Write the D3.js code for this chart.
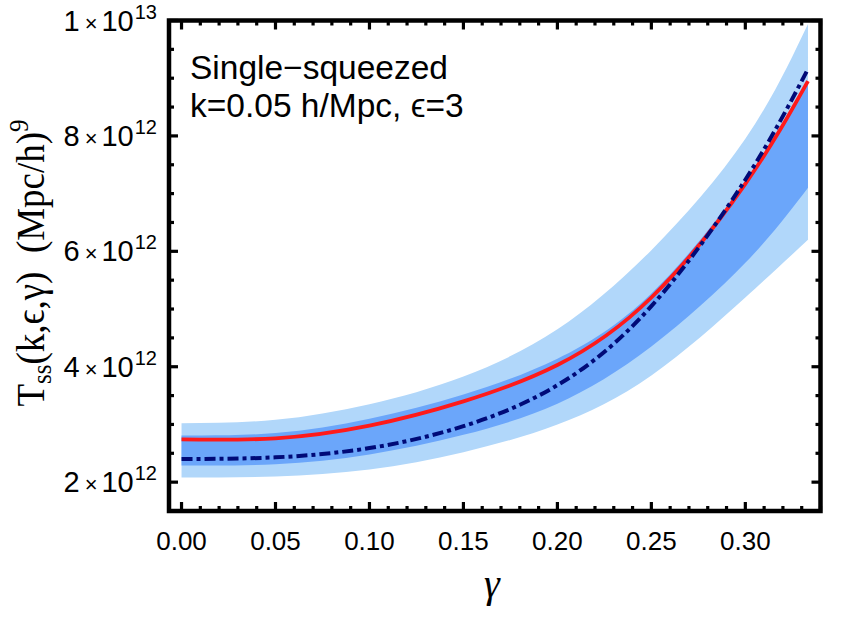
<!DOCTYPE html>
<html><head><meta charset="utf-8">
<script src="https://cdn.jsdelivr.net/npm/d3@7"></script>
<style>body{margin:0;background:#fff} svg{display:block}</style>
</head><body><svg id="c" width="843" height="617"></svg>
<script>
// ---- data (values in units of 1e12 (Mpc/h)^9) ----
const gammaVals   = [0, 0.05, 0.10, 0.15, 0.20, 0.25, 0.30, 1/3];
const lightUpper  = [3.02, 3.08, 3.35, 3.83, 4.65, 6.02, 7.95, 9.94];
const darkUpper   = [2.81, 2.85, 3.10, 3.52, 4.14, 5.27, 7.22, 8.90];
const redCentral  = [2.74, 2.76, 2.98, 3.40, 4.03, 5.20, 7.17, 8.95];
const dashedModel = [2.40, 2.43, 2.59, 2.97, 3.68, 5.05, 7.24, 9.16];
const darkLower   = [2.29, 2.31, 2.48, 2.82, 3.36, 4.35, 5.80, 7.10];
const lightLower  = [2.08, 2.10, 2.22, 2.52, 3.00, 3.85, 5.20, 6.20];
const unit = 1e12;

const xTickVals   = [0, 0.05, 0.10, 0.15, 0.20, 0.25, 0.30];
const xTickLabels = ["0.00","0.05","0.10","0.15","0.20","0.25","0.30"];
const yTickVals   = [2e12, 4e12, 6e12, 8e12, 1e13];
const yMantissa   = ["2","4","6","8","1"];
const yExponent   = ["12","12","12","12","13"];
const annotation  = ["Single\u2212squeezed", "k=0.05 h/Mpc, \u03f5=3"];

// ---- layout ----
const L = 169, T = 20.5, R = 820.5, B = 511;

const svg = d3.select("#c");
const x = d3.scaleLinear().domain([-1/150, 0.34]).range([L, R]);
const y = d3.scaleLinear().domain([1.5e12, 1e13]).range([B, T]);

svg.append("clipPath").attr("id","pc").append("rect")
  .attr("x", L).attr("y", T).attr("width", R-L).attr("height", B-T);
const plot = svg.append("g").attr("clip-path","url(#pc)");

const pts = arr => gammaVals.map((g,i)=>[g, arr[i]*unit]);
const area = (lo, hi) => d3.area().curve(d3.curveNatural)
  .x((d,i)=>x(gammaVals[i])).y0((d,i)=>y(lo[i]*unit)).y1((d,i)=>y(hi[i]*unit))(gammaVals);
const line = d3.line().curve(d3.curveNatural).x(d=>x(d[0])).y(d=>y(d[1]));

plot.append("path").attr("d", area(lightLower, lightUpper)).attr("fill", "#b1d7fa");
plot.append("path").attr("d", area(darkLower, darkUpper)).attr("fill", "#6ba6fa");
plot.append("path").attr("d", line(pts(redCentral))).attr("fill","none")
  .attr("stroke","#ff1a1a").attr("stroke-width",3.8);
plot.append("path").attr("d", line(pts(dashedModel))).attr("fill","none")
  .attr("stroke","#000a78").attr("stroke-width",4).attr("stroke-dasharray","11,4,4,4");

// ---- frame and ticks ----
const axes = svg.append("g").attr("stroke","#000");
const xMinor = d3.range(0, 0.3401, 0.01).filter(v => !xTickVals.some(t => Math.abs(t-v) < 1e-6));
const yMinor = d3.range(2.5e12, 1e13, 0.5e12).filter(v => !yTickVals.some(t => Math.abs(t-v) < 1));
const tickW = 3.2, maj = 9, mnr = 5;
const vt = (v, len) => {
  axes.append("line").attr("x1",x(v)).attr("x2",x(v)).attr("y1",B).attr("y2",B-len).attr("stroke-width",tickW);
  axes.append("line").attr("x1",x(v)).attr("x2",x(v)).attr("y1",T).attr("y2",T+len).attr("stroke-width",tickW);
};
const ht = (v, len) => {
  axes.append("line").attr("x1",L).attr("x2",L+len).attr("y1",y(v)).attr("y2",y(v)).attr("stroke-width",tickW);
  axes.append("line").attr("x1",R).attr("x2",R-len).attr("y1",y(v)).attr("y2",y(v)).attr("stroke-width",tickW);
};
xTickVals.forEach(v => vt(v, maj));
xMinor.forEach(v => vt(v, mnr));
yTickVals.forEach(v => ht(v, maj));
yMinor.forEach(v => ht(v, mnr));
svg.append("rect").attr("x",L).attr("y",T).attr("width",R-L).attr("height",B-T)
  .attr("fill","none").attr("stroke","#000").attr("stroke-width",4.5);

// ---- tick labels ----
const sans = "'Liberation Sans', Arial, sans-serif";
xTickVals.forEach((v,i) => {
  svg.append("text").attr("x", x(v)).attr("y", 550)
    .attr("text-anchor","middle").attr("font-family",sans).attr("font-size",26)
    .text(xTickLabels[i]);
});
yTickVals.forEach((v,i) => {
  const t = svg.append("text").attr("x",157).attr("y",y(v)+10)
    .attr("text-anchor","end").attr("font-family",sans).attr("font-size",29);
  t.append("tspan").text(yMantissa[i]);
  t.append("tspan").attr("dx",5).attr("font-size",22).text("\u00d7");
  t.append("tspan").attr("dx",4).text("10");
  t.append("tspan").attr("dx",1).attr("dy",-12).attr("font-size",20).text(yExponent[i]);
});

// ---- annotation ----
annotation.forEach((s,i) => {
  svg.append("text").attr("x",190).attr("y",79 + i*38)
    .attr("font-family",sans).attr("font-size",33.5).text(s);
});

// ---- axis titles ----
const serif = "'Liberation Serif', 'Times New Roman', serif";
const yt = svg.append("text").attr("transform",`translate(44,263) scale(1.1,1) rotate(-90)`)
  .attr("text-anchor","middle").attr("font-family",serif).attr("font-size",37);
yt.append("tspan").text("T");
yt.append("tspan").attr("dy",6).attr("font-size",25).text("ss");
yt.append("tspan").attr("dy",-6).text("(k,\u03f5,\u03b3)\u2002(Mpc/h)");
yt.append("tspan").attr("dy",-15).attr("font-size",25).text("9");

svg.append("text").attr("x",492).attr("y",597)
  .attr("text-anchor","middle").attr("font-family",serif).attr("font-style","italic")
  .attr("font-size",40).text("\u03b3");
</script></body></html>
